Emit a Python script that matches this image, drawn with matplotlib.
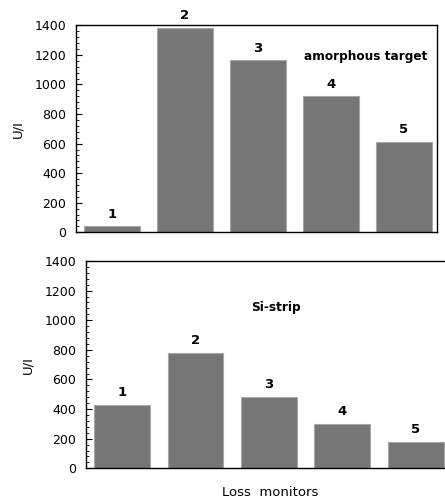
import matplotlib.pyplot as plt
from matplotlib.ticker import MultipleLocator

# Data
monitors = [1, 2, 3, 4, 5]
amorphous = [40, 1382, 1163, 920, 611]
si_strip = [430, 779, 484, 301, 178]

plt.rcParams["font.family"] = ["DejaVu Sans"]

BAR_COLOR = "#767676"
EDGE_COLOR = "#a8a8a8"


def draw_panel(ax, values, label, label_xy):
    ax.bar(monitors, values, width=0.76, color=BAR_COLOR,
           edgecolor=EDGE_COLOR, linewidth=0.8)
    for m, v in zip(monitors, values):
        ax.annotate(str(m), (m, v), xytext=(0, 4), textcoords="offset points",
                    ha="center", va="bottom", fontsize=9.5, fontweight="bold")
    ax.text(label_xy[0], label_xy[1], label, ha="center", va="center",
            fontsize=8.7, fontweight="bold")
    ax.set_xlim(0.51, 5.45)
    ax.set_ylim(0, 1400)
    ax.yaxis.set_major_locator(MultipleLocator(200))
    ax.yaxis.set_minor_locator(MultipleLocator(40))
    ax.tick_params(axis="y", which="major", direction="in", length=4,
                   labelsize=9, pad=7)
    ax.tick_params(axis="y", which="minor", direction="in", length=2)
    ax.tick_params(axis="x", bottom=False, labelbottom=False)
    ax.set_ylabel("U/I", fontsize=9.5, labelpad=7)
    for s in ax.spines.values():
        s.set_linewidth(1.0)


fig = plt.figure(figsize=(4.45, 5.01), dpi=100)
ax1 = fig.add_axes([0.1708, 0.5363, 0.811, 0.4132])
ax2 = fig.add_axes([0.1933, 0.0653, 0.815, 0.4137])

draw_panel(ax1, amorphous, "amorphous target", (4.48, 1186))
draw_panel(ax2, si_strip, "Si-strip", (3.10, 1089))

fig.text(0.607, 0.016, "Loss  monitors", ha="center", va="center",
         fontsize=9.5)

fig.savefig("out.png", dpi=100)
